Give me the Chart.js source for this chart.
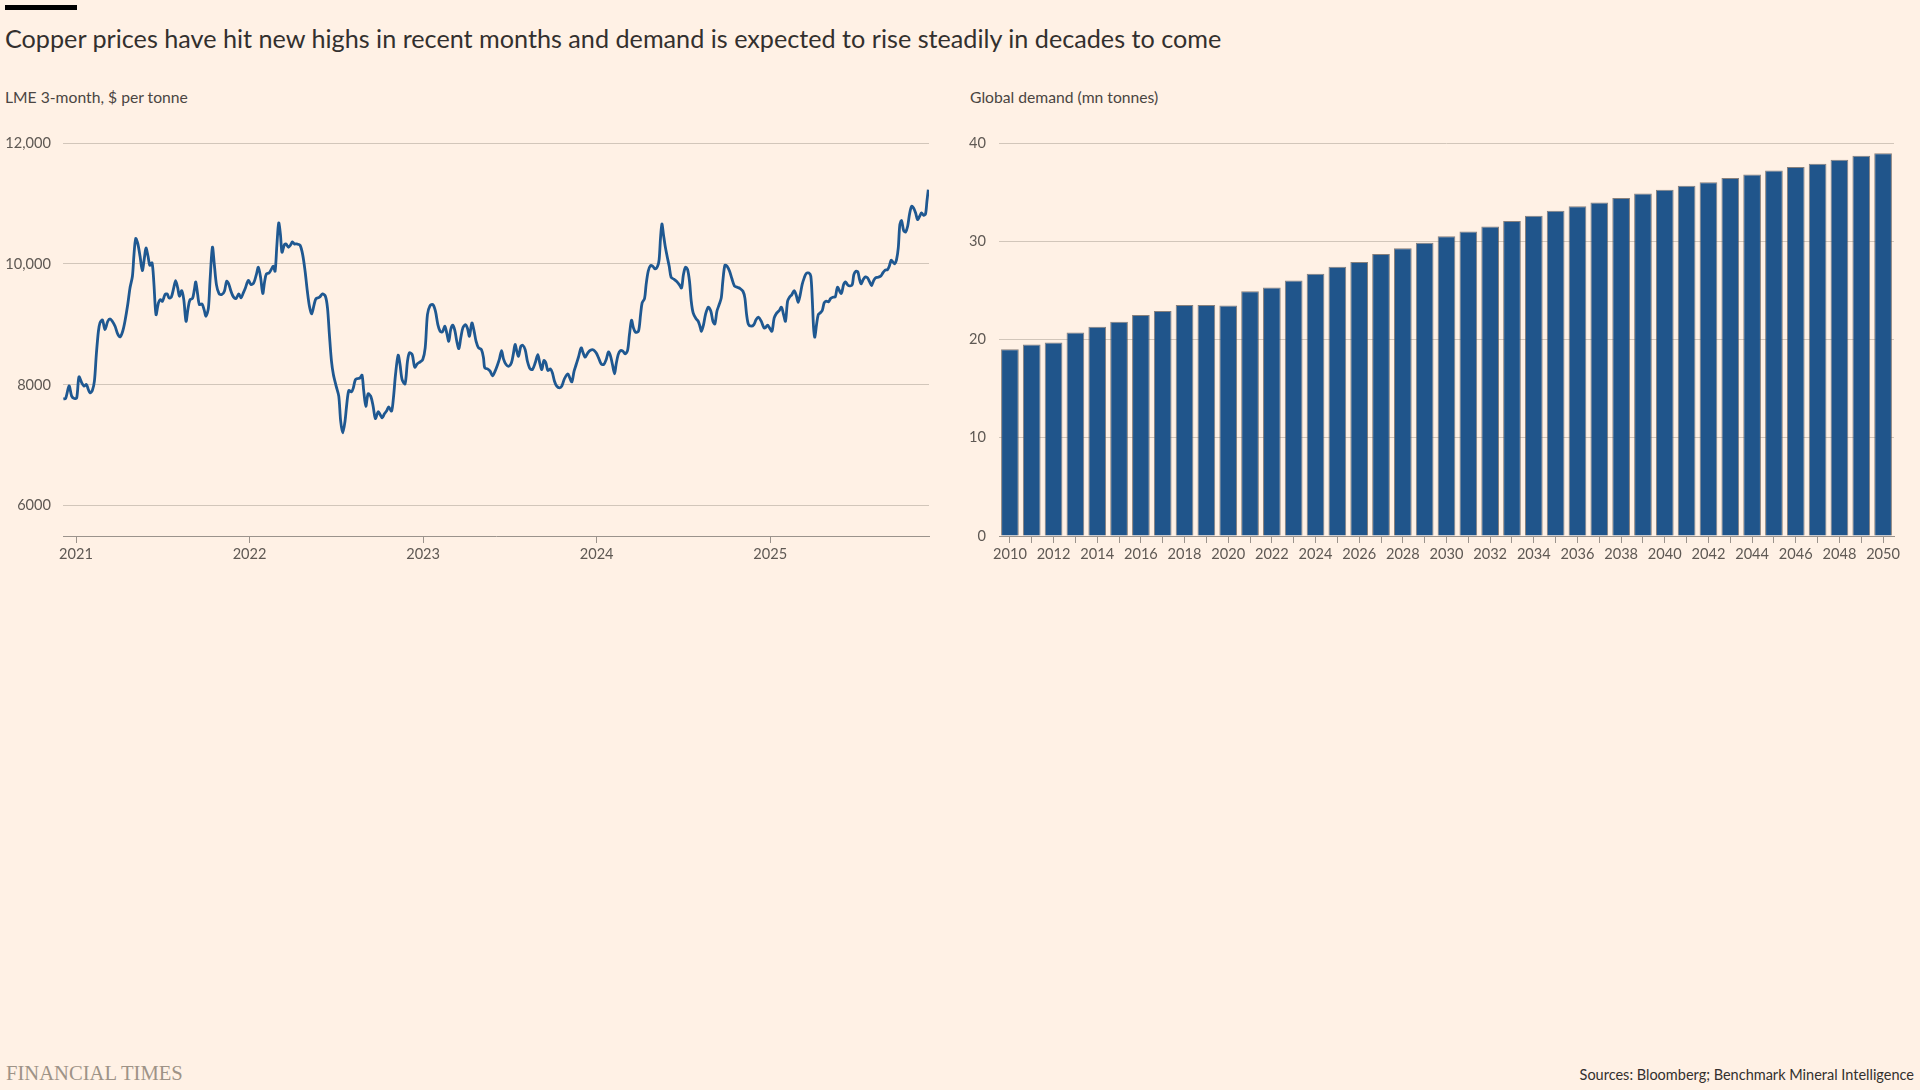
<!DOCTYPE html>
<html>
<head>
<meta charset="utf-8">
<title>Copper prices and demand</title>
<script src="https://cdn.jsdelivr.net/npm/chart.js@4.4.1/dist/chart.umd.min.js"></script>
<style>
  html, body { margin: 0; padding: 0; background: #fff1e5; }
  body { width: 1920px; height: 1090px; position: relative; overflow: hidden; font-family: Lato, sans-serif; color: #33302e; }
  .topbar { position: absolute; left: 5px; top: 5px; width: 72px; height: 5px; background: #000; }
  .title { position: absolute; left: 5px; top: 24px; font-size: 25.2px; line-height: 29px; white-space: nowrap; }
  .sub { position: absolute; top: 88px; font-size: 15.7px; line-height: 18px; color: #4a4542; white-space: nowrap; }
  .box { position: absolute; top: 110px; height: 470px; }
  .ft { position: absolute; left: 6px; top: 1062px; font-family: "Liberation Serif", serif; font-size: 20.6px; color: #9e9387; }
  .src { position: absolute; right: 6px; top: 1066px; font-size: 14.5px; color: #33302e; }
</style>
</head>
<body>
<div class="topbar"></div>
<div class="title">Copper prices have hit new highs in recent months and demand is expected to rise steadily in decades to come</div>
<div class="sub" style="left:5px">LME 3-month, $ per tonne</div>
<div class="sub" style="left:970px">Global demand (mn tonnes)</div>
<div class="box" style="left:0; width:940px"><canvas id="priceChart"></canvas></div>
<div class="box" style="left:960px; width:960px"><canvas id="demandChart"></canvas></div>
<div class="ft">FINANCIAL TIMES</div>
<div class="src">Sources: Bloomberg; Benchmark Mineral Intelligence</div>

<script>
// LME 3-month copper, dates as decimal years
var priceDates = [
  2020.927, 2020.940, 2020.960, 2020.975, 2020.990, 2021.004, 2021.017, 2021.033, 2021.046, 2021.060,
  2021.071, 2021.081, 2021.094, 2021.106, 2021.117, 2021.129, 2021.138, 2021.152, 2021.167, 2021.183,
  2021.196, 2021.209, 2021.225, 2021.240, 2021.254, 2021.269, 2021.282, 2021.298, 2021.311, 2021.325,
  2021.334, 2021.344, 2021.355, 2021.369, 2021.382, 2021.394, 2021.403, 2021.415, 2021.425, 2021.438,
  2021.448, 2021.461, 2021.475, 2021.486, 2021.498, 2021.513, 2021.525, 2021.536, 2021.549, 2021.563,
  2021.574, 2021.586, 2021.596, 2021.609, 2021.621, 2021.634, 2021.646, 2021.657, 2021.671, 2021.682,
  2021.690, 2021.701, 2021.711, 2021.726, 2021.738, 2021.749, 2021.763, 2021.772, 2021.786, 2021.797,
  2021.809, 2021.824, 2021.840, 2021.855, 2021.868, 2021.880, 2021.893, 2021.907, 2021.922, 2021.938,
  2021.951, 2021.964, 2021.976, 2021.993, 2022.009, 2022.024, 2022.039, 2022.051, 2022.064, 2022.076,
  2022.087, 2022.097, 2022.112, 2022.128, 2022.137, 2022.147, 2022.157, 2022.168, 2022.178, 2022.187,
  2022.201, 2022.210, 2022.224, 2022.235, 2022.247, 2022.258,
  2022.272, 2022.291, 2022.306, 2022.320, 2022.333, 2022.345, 2022.358, 2022.372, 2022.383, 2022.403,
  2022.420, 2022.437, 2022.449, 2022.460, 2022.472, 2022.483, 2022.499, 2022.514, 2022.525, 2022.537,
  2022.550, 2022.560, 2022.572, 2022.587, 2022.598, 2022.610, 2022.625, 2022.637, 2022.648, 2022.658,
  2022.670, 2022.683, 2022.698, 2022.712, 2022.725, 2022.741, 2022.752, 2022.764, 2022.777, 2022.791,
  2022.802, 2022.818, 2022.829, 2022.841, 2022.856, 2022.867, 2022.879, 2022.896, 2022.910, 2022.921,
  2022.937, 2022.952, 2022.967, 2022.983, 2022.998, 2023.012, 2023.025, 2023.040, 2023.056, 2023.071,
  2023.085, 2023.098, 2023.111, 2023.125, 2023.136, 2023.148, 2023.159, 2023.171, 2023.183, 2023.194,
  2023.206, 2023.217, 2023.229, 2023.244, 2023.256, 2023.267, 2023.281, 2023.294, 2023.305, 2023.319,
  2023.336, 2023.348, 2023.355, 2023.371, 2023.386, 2023.400, 2023.413, 2023.428, 2023.440, 2023.452,
  2023.463, 2023.478, 2023.494, 2023.509, 2023.521, 2023.530, 2023.540, 2023.550, 2023.563, 2023.574,
  2023.588, 2023.601, 2023.613,
  2023.617, 2023.630, 2023.646, 2023.661, 2023.672, 2023.684, 2023.696, 2023.707, 2023.719, 2023.734,
  2023.745, 2023.757, 2023.770, 2023.786, 2023.799, 2023.815, 2023.834, 2023.845, 2023.857, 2023.870,
  2023.882, 2023.895, 2023.911, 2023.922, 2023.934, 2023.949, 2023.964, 2023.982, 2023.997, 2024.011,
  2024.026, 2024.041, 2024.055, 2024.068, 2024.080, 2024.091, 2024.103, 2024.112, 2024.124, 2024.137,
  2024.151, 2024.164, 2024.178, 2024.189, 2024.201, 2024.212, 2024.224, 2024.241, 2024.253, 2024.262,
  2024.276, 2024.285, 2024.297, 2024.310, 2024.324, 2024.337, 2024.351, 2024.360, 2024.368, 2024.376,
  2024.385, 2024.395, 2024.406, 2024.418, 2024.429, 2024.445, 2024.460, 2024.476, 2024.489, 2024.500,
  2024.512, 2024.524, 2024.535, 2024.545, 2024.556, 2024.572, 2024.585, 2024.595, 2024.604, 2024.616,
  2024.627, 2024.643, 2024.658, 2024.670, 2024.681, 2024.693, 2024.706, 2024.718, 2024.727, 2024.739,
  2024.752, 2024.766, 2024.779, 2024.794, 2024.810, 2024.827, 2024.843, 2024.854, 2024.864, 2024.875,
  2024.891, 2024.906, 2024.919, 2024.933, 2024.948, 2024.964,
  2024.971, 2024.985, 2024.996, 2025.010, 2025.023, 2025.038, 2025.052, 2025.065, 2025.077, 2025.088,
  2025.100, 2025.111, 2025.125, 2025.138, 2025.150, 2025.161, 2025.173, 2025.184, 2025.196, 2025.207,
  2025.223, 2025.234, 2025.242, 2025.250, 2025.257, 2025.267, 2025.277, 2025.288, 2025.300, 2025.311,
  2025.323, 2025.336, 2025.348, 2025.361, 2025.375, 2025.388, 2025.409, 2025.423, 2025.434, 2025.448,
  2025.461, 2025.473, 2025.482, 2025.494, 2025.505, 2025.515, 2025.524, 2025.536, 2025.549, 2025.561,
  2025.573, 2025.584, 2025.596, 2025.607, 2025.622, 2025.638, 2025.649, 2025.661, 2025.676, 2025.686,
  2025.697, 2025.707, 2025.717, 2025.728, 2025.738, 2025.747, 2025.757, 2025.769, 2025.780, 2025.792,
  2025.803, 2025.815, 2025.826, 2025.838, 2025.849, 2025.861, 2025.872, 2025.884, 2025.895, 2025.903,
  2025.911
];
var priceValues = [
  7768, 7774, 7983, 7813, 7774, 7785, 8132, 8033, 7978, 8005,
  7923, 7868, 7906, 8060, 8501, 8887, 9025, 9074, 8915, 9052,
  9091, 9052, 8970, 8843, 8793, 8887, 9052, 9328, 9603, 9796,
  10154, 10419, 10347, 10127, 9890, 10099, 10264, 10127, 9978, 10017,
  9713, 9162, 9355, 9410, 9383, 9493, 9504, 9438, 9449, 9603,
  9725, 9603, 9466, 9559, 9410, 9052, 9273, 9410, 9427, 9576,
  9702, 9493, 9328, 9339, 9245, 9135, 9273, 9713, 10276, 9989,
  9658, 9510, 9493, 9548, 9713, 9669, 9548, 9455, 9427, 9504,
  9438, 9521, 9603, 9725, 9658, 9686, 9824, 9945, 9769, 9510,
  9713, 9835, 9851, 9923, 9961, 9879, 10292, 10678, 10485, 10193,
  10320, 10331, 10276, 10309, 10364, 10331,
  10331, 10309, 10154, 9879, 9548, 9300, 9174, 9328, 9427, 9449,
  9504, 9466, 9273, 8832, 8391, 8171, 7978, 7813, 7399, 7206,
  7399, 7675, 7906, 7884, 7950, 8088, 8105, 8116, 8160, 7895,
  7647, 7851, 7813, 7647, 7443, 7554, 7510, 7454, 7520, 7576,
  7636, 7565, 7785, 8171, 8490, 8336, 8088, 8016, 8391, 8529,
  8501, 8292, 8347, 8380, 8419, 8612, 9162, 9311, 9328, 9218,
  8997, 8887, 8876, 8970, 8859, 8722, 8915, 8986, 8898, 8722,
  8600, 8777, 8942, 8997, 8931, 8804, 9025, 8887, 8722, 8612,
  8584, 8446, 8281, 8264, 8226, 8149, 8215, 8325, 8430, 8567,
  8430, 8336, 8308, 8364, 8529, 8667, 8556, 8474, 8639, 8655,
  8584, 8391, 8281,
  8264, 8253, 8364, 8501, 8364, 8253, 8402, 8364, 8237, 8264,
  8198, 8060, 7978, 7950, 7978, 8105, 8182, 8116, 8049, 8226,
  8336, 8457, 8612, 8529, 8457, 8529, 8573, 8578, 8529, 8446,
  8347, 8336, 8419, 8545, 8474, 8336, 8182, 8336, 8501, 8567,
  8556, 8512, 8567, 8832, 9069, 8942, 8870, 8887, 9162, 9355,
  9427, 9658, 9879, 9972, 9961, 9917, 9961, 10072, 10430, 10661,
  10485, 10292, 10127, 9961, 9780, 9747, 9713, 9658, 9603, 9824,
  9945, 9906, 9713, 9383, 9190, 9096, 9052, 8970, 8887, 8997,
  9162, 9284, 9218, 9052, 9008, 9218, 9328, 9438, 9713, 9978,
  9961, 9879, 9758, 9636, 9614, 9592, 9548, 9438, 9162, 8997,
  8970, 8997, 9080, 9118, 9052, 8942,
  8942, 8986, 8942, 8887, 9107, 9190, 9229, 9284, 9162, 9052,
  9383, 9449, 9493, 9559, 9482, 9366, 9493, 9658, 9769, 9840,
  9851, 9796, 9438, 8942, 8788, 8997, 9162, 9190, 9229, 9355,
  9383, 9372, 9427, 9449, 9455, 9614, 9510, 9658, 9702, 9647,
  9636, 9658, 9824, 9879, 9868, 9741, 9669, 9741, 9785, 9769,
  9702, 9642, 9725, 9769, 9780, 9802, 9851, 9895, 9906, 9961,
  10061, 10033, 10000, 10072, 10264, 10650, 10716, 10551, 10529, 10623,
  10827, 10953, 10926, 10843, 10733, 10788, 10843, 10804, 10827, 11036,
  11229
];
var priceTicks = [6000, 8000, 10000, 12000];
var priceYearTicks = [2021, 2022, 2023, 2024, 2025];

// Global copper demand, mn tonnes
var demandYears = [
  2010, 2011, 2012, 2013, 2014, 2015, 2016, 2017, 2018, 2019,
  2020, 2021, 2022, 2023, 2024, 2025, 2026, 2027, 2028, 2029,
  2030, 2031, 2032, 2033, 2034, 2035, 2036, 2037, 2038, 2039,
  2040, 2041, 2042, 2043, 2044, 2045, 2046, 2047, 2048, 2049, 2050
];
var demandValues = [
  19.0, 19.5, 19.7, 20.7, 21.3, 21.8, 22.5, 22.9, 23.5, 23.5,
  23.45, 24.9, 25.3, 26.0, 26.7, 27.4, 27.9, 28.7, 29.3, 29.85,
  30.5, 31.0, 31.5, 32.05, 32.6, 33.1, 33.55, 33.95, 34.4, 34.85,
  35.25, 35.65, 36.0, 36.45, 36.8, 37.2, 37.55, 37.9, 38.3, 38.7, 38.95
];
var demandTicks = [0, 10, 20, 30, 40];

var lineColor = '#1f5891';
var barColor = '#20558b';
var barEdge = 'rgba(95, 90, 88, 0.75)';
var gridColor = '#d2c6ba';
var axisColor = '#9b938c';
var tickColor = '#5f5954';

Chart.defaults.font.family = 'Lato, sans-serif';
Chart.defaults.font.size = 14.6;
Chart.defaults.color = tickColor;

var points = [];
for (var i = 0; i < priceDates.length; i++) {
  points.push({ x: priceDates[i], y: priceValues[i] });
}

new Chart(document.getElementById('priceChart'), {
  type: 'line',
  data: {
    datasets: [{
      data: points,
      borderColor: lineColor,
      borderWidth: 2.8,
      pointRadius: 0,
      tension: 0.3,
      fill: false
    }]
  },
  options: {
    responsive: true,
    maintainAspectRatio: false,
    animation: false,
    layout: { padding: { top: 33, right: 11, bottom: 0, left: 0 } },
    plugins: { legend: { display: false }, tooltip: { enabled: false } },
    scales: {
      x: {
        type: 'linear',
        min: 2020.925,
        max: 2025.915,
        afterBuildTicks: function (s) { s.ticks = priceYearTicks.map(function (v) { return { value: v }; }); },
        afterFit: function (s) { s.height = 44; },
        grid: { drawOnChartArea: false, drawTicks: true, tickLength: 7, color: axisColor },
        border: { display: true, color: axisColor },
        ticks: { padding: 3, maxRotation: 0, callback: function (v) { return String(v); } }
      },
      y: {
        min: 5500,
        max: 12000,
        afterBuildTicks: function (s) { s.ticks = priceTicks.map(function (v) { return { value: v }; }); },
        afterFit: function (s) { s.width = 63; },
        grid: { color: gridColor, drawTicks: false },
        border: { display: false },
        ticks: {
          padding: 12,
          callback: function (v) { return v >= 10000 ? v.toLocaleString('en-US') : String(v); }
        }
      }
    }
  }
});

new Chart(document.getElementById('demandChart'), {
  type: 'bar',
  data: {
    labels: demandYears.map(String),
    datasets: [{
      data: demandValues,
      backgroundColor: barColor,
      borderColor: barEdge,
      borderWidth: 1,
      barPercentage: 0.81,
      categoryPercentage: 1.0
    }]
  },
  options: {
    responsive: true,
    maintainAspectRatio: false,
    animation: false,
    layout: { padding: { top: 33, right: 26, bottom: 0, left: 0 } },
    plugins: { legend: { display: false }, tooltip: { enabled: false } },
    scales: {
      x: {
        afterFit: function (s) { s.height = 44; },
        grid: { drawOnChartArea: false, drawTicks: true, tickLength: 7, color: axisColor, offset: false },
        border: { display: true, color: axisColor },
        ticks: {
          padding: 3,
          autoSkip: false,
          maxRotation: 0,
          callback: function (v, i) { return demandYears[i] % 2 === 0 ? String(demandYears[i]) : ''; }
        }
      },
      y: {
        min: 0,
        max: 40,
        afterBuildTicks: function (s) { s.ticks = demandTicks.map(function (v) { return { value: v }; }); },
        afterFit: function (s) { s.width = 39; },
        grid: {
          drawTicks: false,
          color: function (c) { return c.tick && c.tick.value === 0 ? axisColor : gridColor; }
        },
        border: { display: false },
        ticks: { padding: 13 }
      }
    }
  }
});
</script>
</body>
</html>
